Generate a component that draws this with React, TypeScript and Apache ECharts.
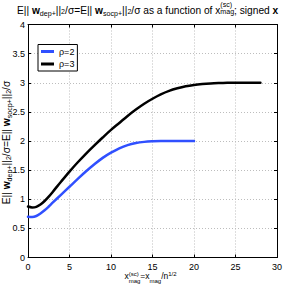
import React, { useEffect, useRef } from "react";
import * as echarts from "echarts";

// ---- data ----
const seriesNames = ["ρ=2", "ρ=3"];
const seriesColors = ["#3050ff", "#000000"];

const xRho2 = [0, 0.5, 1, 1.5, 2, 2.5, 3, 4, 5, 6, 7, 8, 9, 10, 11, 12, 13, 14, 15, 16, 17, 18, 19, 20];
const yRho2 = [0.7, 0.697, 0.713, 0.755, 0.81, 0.875, 0.945, 1.08, 1.215, 1.35, 1.48, 1.6, 1.71, 1.8, 1.875, 1.93, 1.965, 1.985, 1.995, 2.0, 2.0, 2.0, 2.0, 2.0];

const xRho3 = [0, 0.5, 1, 1.5, 2, 2.5, 3, 4, 5, 6, 7, 8, 9, 10, 11, 12, 13, 14, 15, 16, 17, 18, 19, 20, 21, 22, 23, 24, 25, 26, 27, 28];
const yRho3 = [0.875, 0.86, 0.87, 0.91, 0.97, 1.045, 1.13, 1.305, 1.475, 1.635, 1.785, 1.925, 2.06, 2.19, 2.31, 2.43, 2.54, 2.64, 2.725, 2.8, 2.86, 2.905, 2.94, 2.963, 2.978, 2.988, 2.994, 2.998, 3.0, 3.0, 3.0, 3.0];

const xMin = 0, xMax = 30, xStep = 5;
const yMin = 0, yMax = 4, yStep = 0.5;

const FONT = "'Liberation Sans', Arial, Helvetica, sans-serif";

type Seg = { t?: string; s?: number; b?: boolean; dy?: number; stack?: Seg[] };

const M = 10.2;
const S = 7.1;
const nameSegs: Seg[] = [
  { t: "E|| ", s: M },
  { t: "w", s: M, b: true },
  { t: "dep+", s: S, dy: 2.5 },
  { t: "||", s: M },
  { t: "2", s: S, dy: 1 },
  { t: "/σ=E|| ", s: M },
  { t: "w", s: M, b: true },
  { t: "socp+", s: S, dy: 2.5 },
  { t: "||", s: M },
  { t: "2", s: S, dy: 1 },
];
const titleSegs: Seg[] = [
  ...nameSegs,
  { t: "/σ as a function of x", s: M },
  { stack: [{ t: "(sc)", s: S, dy: -6 }, { t: "mag", s: S, dy: 1 }] },
  { t: "; signed ", s: M },
  { t: "x", s: M, b: true },
];
const yNameSegs: Seg[] = [...nameSegs, { t: "/σ", s: M }];
const xNameSegs: Seg[] = [
  { t: "x", s: 8.5 },
  { stack: [{ t: "(sc)", s: 6, dy: -3 }, { t: "mag", s: 6, dy: 3.5 }] },
  { t: "=x", s: 8.5 },
  { t: "mag", s: 6, dy: 3.5 },
  { t: "/n", s: 8.5 },
  { t: "1/2", s: 6, dy: -3.5 },
];

function fontStr(s: number, b?: boolean) {
  return `${b ? "bold " : ""}${s}px 'Liberation Sans'`;
}

function layout(ctx: CanvasRenderingContext2D, segs: Seg[]) {
  const items: any[] = [];
  let x = 0;
  const measure = (sg: Seg) => {
    ctx.font = fontStr(sg.s || 10, sg.b);
    return ctx.measureText(sg.t || "").width;
  };
  const mk = (sg: Seg, px: number) => ({
    type: "text",
    x: px,
    y: (sg.dy || 0) - 0.32 * (sg.s || 10),
    style: {
      text: sg.t,
      fill: "#000",
      fontSize: sg.s,
      fontWeight: sg.b ? "bold" : "normal",
      fontFamily: FONT,
      align: "left",
      verticalAlign: "middle",
    },
  });
  for (const sg of segs) {
    if (sg.stack) {
      let w = 0;
      for (const s2 of sg.stack) {
        items.push(mk(s2, x));
        w = Math.max(w, measure(s2));
      }
      x += w;
    } else {
      items.push(mk(sg, x));
      x += measure(sg);
    }
  }
  return { items, width: x };
}

export default function App() {
  const ref = useRef<HTMLDivElement>(null);
  useEffect(() => {
    if (!ref.current) return;
    const chart = echarts.init(ref.current, undefined, { renderer: "svg" });
    const canvas = document.createElement("canvas");
    const ctx = canvas.getContext("2d") as CanvasRenderingContext2D;

    const title = layout(ctx, titleSegs);
    const yName = layout(ctx, yNameSegs);
    const xName = layout(ctx, xNameSegs);

    const axisLine = { show: true, onZero: false, lineStyle: { color: "#000", width: 1 } };
    const tick = { show: true, inside: true, length: 3, lineStyle: { color: "#000" } };
    const split = { show: true, lineStyle: { color: "#bdbdbd", width: 1, type: [1, 2] as any } };
    const label = { color: "#000", fontSize: 9, fontFamily: FONT };

    const mkSeries = (i: number, xs: number[], ys: number[]) => ({
      type: "line",
      name: seriesNames[i],
      xAxisIndex: 0,
      yAxisIndex: 0,
      data: xs.map((x, k) => [x, ys[k]]),
      showSymbol: false,
      symbol: "none",
      smooth: 0.35,
      lineStyle: { width: 2.5, color: seriesColors[i], cap: "round", join: "round" },
      itemStyle: { color: seriesColors[i] },
      z: 3,
    });

    chart.setOption({
      animation: false,
      backgroundColor: "#fff",
      grid: { left: 28, right: 12, top: 24.5, bottom: 31.5, containLabel: false, outerBoundsMode: "none" } as any,
      xAxis: [
        { type: "value", min: xMin, max: xMax, interval: xStep, position: "bottom", axisLine, axisTick: tick, axisLabel: { ...label, margin: 5 }, splitLine: split },
        { type: "value", min: xMin, max: xMax, interval: xStep, position: "top", axisLine, axisTick: tick, axisLabel: { show: false }, splitLine: { show: false } },
      ],
      yAxis: [
        { type: "value", min: yMin, max: yMax, interval: yStep, position: "left", axisLine, axisTick: tick, axisLabel: { ...label, margin: 3 }, splitLine: split },
        { type: "value", min: yMin, max: yMax, interval: yStep, position: "right", axisLine, axisTick: tick, axisLabel: { show: false }, splitLine: { show: false } },
      ],
      legend: {
        show: true,
        data: seriesNames,
        orient: "vertical",
        left: 38,
        top: 44.5,
        icon: "rect",
        itemWidth: 13,
        itemHeight: 3,
        itemGap: 3.5,
        padding: [2.5, 3, 2.5, 3],
        borderColor: "#000",
        borderWidth: 1,
        borderRadius: 0,
        backgroundColor: "#fff",
        textStyle: { fontSize: 9, color: "#000", fontFamily: FONT, lineHeight: 9 },
      },
      series: [mkSeries(0, xRho2, yRho2), mkSeries(1, xRho3, yRho3)],
      graphic: [
        { type: "group", x: 17, y: 13.3, children: title.items },
        { type: "group", x: 10, y: 142.5, rotation: Math.PI / 2, children: yName.items.map((it) => ({ ...it, x: it.x - yName.width / 2 })) },
        { type: "group", x: 150.5, y: 279, children: xName.items.map((it) => ({ ...it, x: it.x - xName.width / 2 })) },
      ],
    });
    return () => chart.dispose();
  }, []);
  return <div ref={ref} style={{ width: 289, height: 289, position: "absolute", left: 0, top: 0 }} />;
}
